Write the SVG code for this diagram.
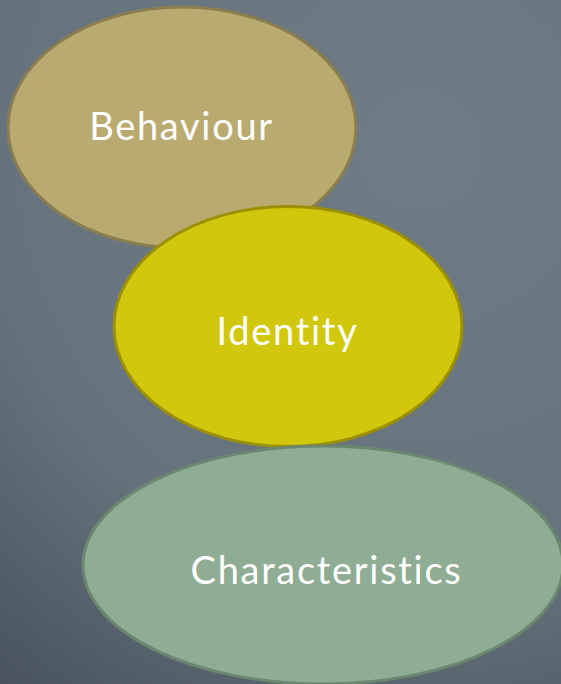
<svg xmlns="http://www.w3.org/2000/svg" width="561" height="684" viewBox="0 0 561 684">
<defs>
<radialGradient id="bg" cx="420" cy="150" r="720" gradientUnits="userSpaceOnUse">
<stop offset="0" stop-color="#6f7c86"/>
<stop offset="0.6" stop-color="#66727c"/>
<stop offset="1" stop-color="#434e58"/>
</radialGradient>
</defs>
<style>
.lbl{font-family:Lato,"Noto Sans",sans-serif;font-size:38px;letter-spacing:1.7px;fill:#ffffff;text-anchor:middle}
.n{stroke-width:3}
</style>
<rect width="561" height="684" fill="url(#bg)"/>
<g id="connectors"/>
<g id="behaviour">
<ellipse class="n" cx="182" cy="127.5" rx="174" ry="120.5" fill="#b9aa70" stroke="#8a7e50"/>
<text class="lbl" x="181.5" y="140">Behaviour</text>
</g>
<g id="identity">
<ellipse class="n" cx="288" cy="326.5" rx="174" ry="120" fill="#d1c70c" stroke="#9b9000"/>
<text class="lbl" x="287.5" y="345">Identity</text>
</g>
<g id="characteristics">
<ellipse class="n" cx="323" cy="565" rx="240" ry="119" fill="#8fac94" stroke="#6b8770"/>
<text class="lbl" x="326.5" y="584">Characteristics</text>
</g>
</svg>
